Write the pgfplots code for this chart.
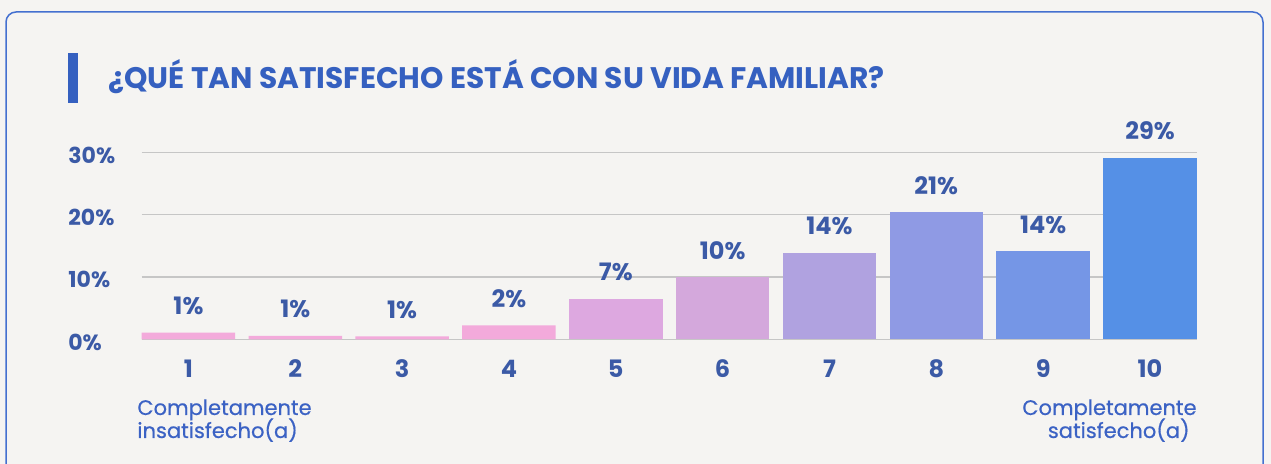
\documentclass[border=0pt]{standalone}
\usepackage{fontspec}
\setmainfont{Poppins}
\newfontfamily\pmed[FakeBold=0.5]{Poppins}
\usepackage{pgfplots}
\pgfplotsset{compat=1.18}
\definecolor{bg}{HTML}{F5F4F2}
\definecolor{card}{HTML}{4470D0}
\definecolor{titlec}{HTML}{3560C0}
\definecolor{tickc}{HTML}{3B5AA6}
\definecolor{notec}{HTML}{3B62C4}
\definecolor{gridc}{HTML}{C6C6C6}
\definecolor{c1}{HTML}{F3AADB}
\definecolor{c5}{HTML}{DDA8E0}
\definecolor{c6}{HTML}{D4A8DC}
\definecolor{c7}{HTML}{B0A2E0}
\definecolor{c8}{HTML}{8F9AE4}
\definecolor{c9}{HTML}{7596E6}
\definecolor{c10}{HTML}{5590E6}
\begin{document}
\begin{tikzpicture}
\fill[bg] (0,0) rectangle (635.5pt,232pt);
\draw[card, line width=0.75pt, rounded corners=5pt] (3pt,-10pt) -- (3pt,226pt) -- (631.5pt,226pt) -- (631.5pt,-10pt);
\fill[titlec] (34pt,180.5pt) rectangle (39pt,205.5pt);
\node[anchor=base west, inner sep=0pt, text=titlec, font=\fontsize{14.85}{18}\selectfont\bfseries] at (54pt,187.5pt) {¿QUÉ TAN SATISFECHO ESTÁ CON SU VIDA FAMILIAR?};
\begin{axis}[
  at={(70.85pt,62.35pt)}, anchor=south west,
  scale only axis, width=527.5pt, height=93.5pt,
  xmin=0.5625, xmax=10.4375, ymin=0, ymax=30,
  axis line style={draw=none}, clip=false,
  ymajorgrids, grid style={gridc, line width=0.75pt},
  ytick={0,10,20,30}, yticklabels={0\%,10\%,20\%,30\%},
  xtick={1,2,3,4,5,6,7,8,9,10}, xticklabels={1,2,3,4,5,6,7,8,9,10},
  major tick length=0pt, tick style={draw=none},
  yticklabel style={anchor=base west, inner sep=0pt, xshift=-36.85pt, yshift=-5.5pt, text=tickc, font=\fontsize{11}{13}\selectfont\bfseries},
  xticklabel style={anchor=base, inner sep=0pt, yshift=-19pt, text=tickc, font=\fontsize{12}{14}\selectfont\bfseries},
  ybar, bar width=0.875, bar shift=0pt,
  point meta=explicit symbolic,
  nodes near coords,
  every node near coord/.append style={anchor=base, inner sep=0pt, yshift=9pt, text=tickc, font=\fontsize{12}{14}\selectfont\bfseries},
]
\addplot[fill=c1, draw=none] coordinates {(1,1.06) [1\%] (2,0.55) [1\%] (3,0.45) [1\%] (4,2.25) [2\%]};
\addplot[fill=c5, draw=none] coordinates {(5,6.5) [7\%]};
\addplot[fill=c6, draw=none] coordinates {(6,9.95) [10\%]};
\addplot[fill=c7, draw=none] coordinates {(7,13.9) [14\%]};
\addplot[fill=c8, draw=none] coordinates {(8,20.4) [21\%]};
\addplot[fill=c9, draw=none] coordinates {(9,14.1) [14\%]};
\addplot[fill=c10, draw=none] coordinates {(10,29.15) [29\%]};
\end{axis}
\node[anchor=base west, inner sep=0pt, text=notec, font=\fontsize{10.5}{12}\pmed] at (68.5pt,24.5pt) {Completamente};
\node[anchor=base west, inner sep=0pt, text=notec, font=\fontsize{10.5}{12}\pmed] at (68.5pt,13pt) {insatisfecho(a)};
\node[anchor=base east, inner sep=0pt, text=notec, font=\fontsize{10.5}{12}\pmed] at (598.5pt,24.5pt) {Completamente};
\node[anchor=base east, inner sep=0pt, text=notec, font=\fontsize{10.5}{12}\pmed] at (595pt,13pt) {satisfecho(a)};
\pgfresetboundingbox
\useasboundingbox (0,0) rectangle (635.5pt,232pt);
\end{tikzpicture}
\end{document}
